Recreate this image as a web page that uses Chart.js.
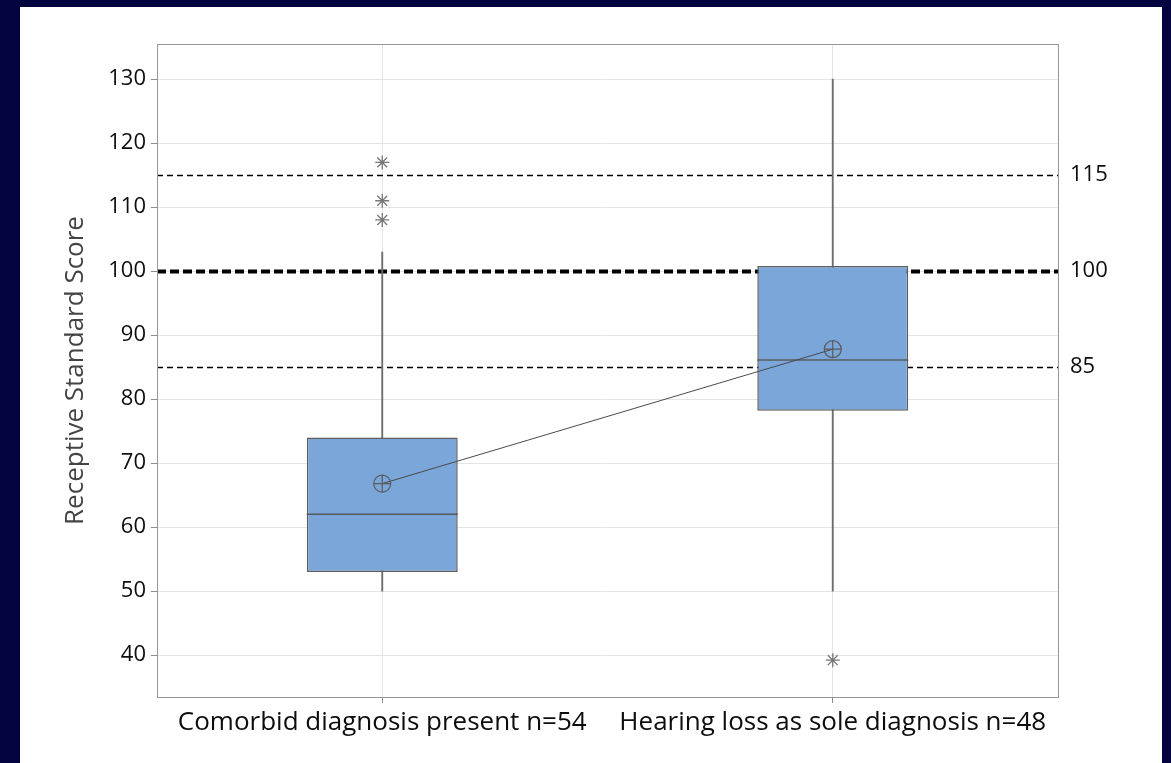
<!DOCTYPE html>
<html>
<head>
<meta charset="utf-8">
<script src="https://cdn.jsdelivr.net/npm/chart.js@4/dist/chart.umd.min.js"></script>
<style>
  html, body { margin: 0; padding: 0; background: #03033f; width: 1171px; height: 763px; overflow: hidden; }
  #panel { position: absolute; left: 20px; top: 7px; width: 1142px; height: 756px; background: #ffffff; }
  canvas { display: block; }
</style>
</head>
<body>
<div id="panel"><canvas id="chart" width="1142" height="756"></canvas></div>
<script>
// Receptive standard scores by diagnosis group
const categories = ['Comorbid diagnosis present n=54', 'Hearing loss as sole diagnosis n=48'];
const q1 = [53, 78.2];
const q3 = [74, 100.8];
const medians = [62, 86.1];
const whiskerLow = [50, 50];
const whiskerHigh = [103, 130];
const means = [66.8, 87.8];
const outliers = [[108, 111, 117], [39.2]];
const refLines = [85, 100, 115];
const yTicks = [40, 50, 60, 70, 80, 90, 100, 110, 120, 130];

const FONT = "'Open Sans', 'Noto Sans', sans-serif";

const outlierPoints = [];
outliers.forEach((vals, i) => vals.forEach(v => outlierPoints.push({ x: categories[i], y: v })));

// Reference lines behind the boxes, median lines over them, frame around the plot
const boxPlugin = {
  id: 'boxExtras',
  beforeDatasetsDraw(chart) {
    const { ctx, chartArea: a, scales: { y } } = chart;
    ctx.save();
    refLines.forEach(v => {
      const py = Math.round(y.getPixelForValue(v)) + 0.5;
      const main = v === 100;
      ctx.beginPath();
      ctx.setLineDash(main ? [9, 4] : [6, 4]);
      ctx.lineWidth = main ? 4 : 1.4;
      ctx.strokeStyle = '#000000';
      ctx.moveTo(a.left, py);
      ctx.lineTo(a.right, py);
      ctx.stroke();
    });
    ctx.restore();
  },
  afterDatasetDraw(chart, args) {
    if (args.index !== 1) return;
    const { ctx, scales: { y } } = chart;
    const meta = chart.getDatasetMeta(1);
    ctx.save();
    ctx.strokeStyle = '#5a5a5a';
    ctx.lineWidth = 1.5;
    meta.data.forEach((bar, i) => {
      const py = y.getPixelForValue(medians[i]);
      ctx.beginPath();
      ctx.moveTo(bar.x - bar.width / 2, py);
      ctx.lineTo(bar.x + bar.width / 2, py);
      ctx.stroke();
    });
    ctx.restore();
  },
  afterDraw(chart) {
    const { ctx, chartArea: a } = chart;
    ctx.save();
    ctx.strokeStyle = '#969696';
    ctx.lineWidth = 1;
    ctx.strokeRect(Math.round(a.left) + 0.5, Math.round(a.top) + 0.5,
                   Math.round(a.right - a.left), Math.round(a.bottom - a.top));
    ctx.restore();
  }
};

new Chart(document.getElementById('chart'), {
  data: {
    labels: categories,
    datasets: [
      {
        type: 'bar',
        label: 'whiskers',
        data: categories.map((c, i) => [whiskerLow[i], whiskerHigh[i]]),
        backgroundColor: '#6c6c6c',
        barThickness: 1.2,
        grouped: false,
        order: 6
      },
      {
        type: 'bar',
        label: 'box',
        data: categories.map((c, i) => [q1[i], q3[i]]),
        backgroundColor: '#7ba6da',
        borderColor: '#5e5e5e',
        borderWidth: 1.5,
        borderSkipped: false,
        categoryPercentage: 1,
        barPercentage: 0.335,
        grouped: false,
        order: 5
      },
      {
        type: 'line',
        label: 'mean',
        data: means,
        borderColor: '#4a4a4a',
        borderWidth: 1,
        pointStyle: 'circle',
        pointRadius: 8.5,
        pointBorderWidth: 1.2,
        pointBorderColor: '#5a5a5a',
        pointBackgroundColor: 'rgba(0,0,0,0)',
        fill: false,
        order: 2
      },
      {
        type: 'line',
        label: 'mean cross',
        data: means,
        showLine: false,
        pointStyle: 'cross',
        pointRadius: 8.5,
        pointBorderWidth: 1.2,
        pointBorderColor: '#5a5a5a',
        order: 1
      },
      {
        type: 'line',
        label: 'outliers',
        data: outlierPoints,
        showLine: false,
        pointStyle: 'star',
        pointRadius: 7,
        pointBorderWidth: 1.3,
        pointBorderColor: '#777777',
        order: 3
      }
    ]
  },
  plugins: [boxPlugin],
  options: {
    responsive: false,
    devicePixelRatio: 1,
    animation: false,
    layout: { padding: { top: 37, left: 0, right: 0, bottom: 0 } },
    plugins: { legend: { display: false }, tooltip: { enabled: false } },
    scales: {
      x: {
        type: 'category',
        offset: true,
        grid: { offset: false, color: '#e4e4e4', tickColor: '#8a8a8a', tickLength: 6, lineWidth: 1 },
        border: { display: false },
        ticks: { color: '#0d0d0d', font: { family: FONT, size: 26 }, maxRotation: 0, autoSkip: false, padding: 4 },
        afterFit(s) { s.height = 66; }
      },
      y: {
        type: 'linear',
        position: 'left',
        min: 33.45,
        max: 135.5,
        afterBuildTicks(s) { s.ticks = yTicks.map(v => ({ value: v })); },
        grid: { color: '#e4e4e4', tickColor: '#8a8a8a', tickLength: 6, lineWidth: 1 },
        border: { display: false },
        ticks: { color: '#0d0d0d', font: { family: FONT, size: 22 }, padding: 5 },
        title: {
          display: true,
          text: 'Receptive Standard Score',
          color: '#444444',
          font: { family: FONT, size: 26 },
          padding: { top: 40, bottom: 0 }
        },
        afterFit(s) { s.width = 137; }
      },
      y2: {
        type: 'linear',
        position: 'right',
        min: 33.45,
        max: 135.5,
        afterBuildTicks(s) { s.ticks = refLines.map(v => ({ value: v })); },
        grid: { display: false, drawTicks: false },
        border: { display: false },
        ticks: { color: '#0d0d0d', font: { family: FONT, size: 22 }, padding: 12 },
        afterFit(s) { s.width = 104; }
      }
    }
  }
});
</script>
</body>
</html>
